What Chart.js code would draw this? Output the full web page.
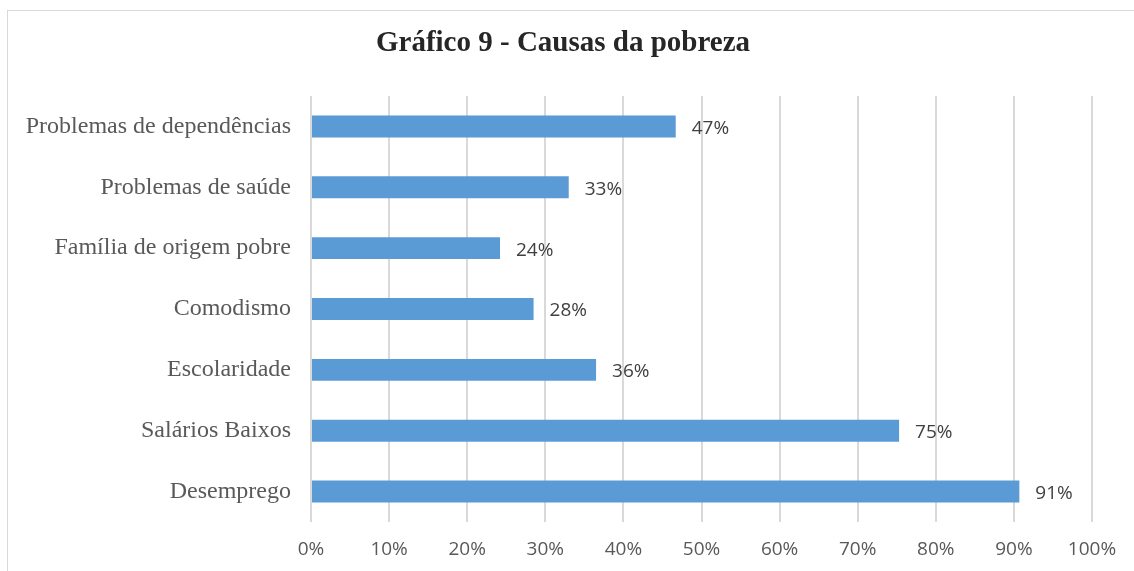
<!DOCTYPE html>
<html>
<head>
<meta charset="utf-8">
<script src="https://cdn.jsdelivr.net/npm/chart.js@4/dist/chart.umd.min.js"></script>
<style>
  html, body { margin: 0; padding: 0; background: #fff; }
  #wrap { position: relative; width: 1134px; height: 571px; overflow: hidden; }
  #frame { position: absolute; left: 7px; top: 10px; width: 1140px; height: 580px; border: 1px solid #d9d9d9; box-sizing: border-box; }
  canvas { position: absolute; left: 0; top: 0; }
</style>
</head>
<body>
<div id="wrap">
  <div id="frame"></div>
  <canvas id="chart" width="1134" height="571"></canvas>
</div>
<script>
// Causas da pobreza (%)
const causas = ['Problemas de dependências', 'Problemas de saúde', 'Família de origem pobre',
                'Comodismo', 'Escolaridade', 'Salários Baixos', 'Desemprego'];
const percentagens = [46.7, 33.0, 24.2, 28.5, 36.5, 75.3, 90.7];
const rotulos = ['47%', '33%', '24%', '28%', '36%', '75%', '91%'];
const titulo = 'Gráfico 9 - Causas da pobreza';

const sansFont = '"Open Sans", "Liberation Sans", sans-serif';
const serifFont = '"Liberation Serif", "Times New Roman", serif';

// value labels at the end of each bar + the title centred on the whole frame
const extras = {
    id: 'extras',
    afterDatasetsDraw(chart) {
        const ctx = chart.ctx;
        const meta = chart.getDatasetMeta(0);
        ctx.save();
        ctx.font = '19px ' + sansFont;
        ctx.fillStyle = '#404040';
        ctx.textAlign = 'left';
        ctx.textBaseline = 'middle';
        meta.data.forEach((bar, i) => {
            ctx.fillText(rotulos[i], bar.x + 16, bar.y + 2);
        });

        ctx.font = 'bold 29px ' + serifFont;
        ctx.fillStyle = '#262626';
        ctx.textAlign = 'center';
        ctx.fillText(titulo, 563, 44);
        ctx.restore();
    }
};

const ctx = document.getElementById('chart').getContext('2d');
const chart = new Chart(ctx, {
    type: 'bar',
    data: {
        labels: causas,
        datasets: [{
            data: percentagens,
            backgroundColor: '#5b9bd5',
            borderWidth: 0,
            barPercentage: 0.36,
            categoryPercentage: 1
        }]
    },
    options: {
        indexAxis: 'y',
        responsive: false,
        animation: false,
        layout: {
            padding: { left: 0, right: 42, top: 96, bottom: 4 }
        },
        scales: {
            x: {
                min: 0,
                max: 100,
                ticks: {
                    stepSize: 10,
                    callback: v => v + '%',
                    color: '#595959',
                    font: { family: sansFont, size: 19 },
                    padding: 16
                },
                grid: {
                    color: '#d9d9d9',
                    lineWidth: 2,
                    drawTicks: false
                },
                border: { display: false },
                afterFit: scale => { scale.height = 45; }
            },
            y: {
                ticks: {
                    color: '#595959',
                    font: { family: serifFont, size: 24 },
                    padding: 12
                },
                grid: { display: false },
                border: { display: false },
                afterFit: scale => { scale.width = 311; }
            }
        },
        plugins: {
            legend: { display: false },
            tooltip: { enabled: false },
            title: { display: false }
        }
    },
    plugins: [extras]
});
</script>
</body>
</html>
